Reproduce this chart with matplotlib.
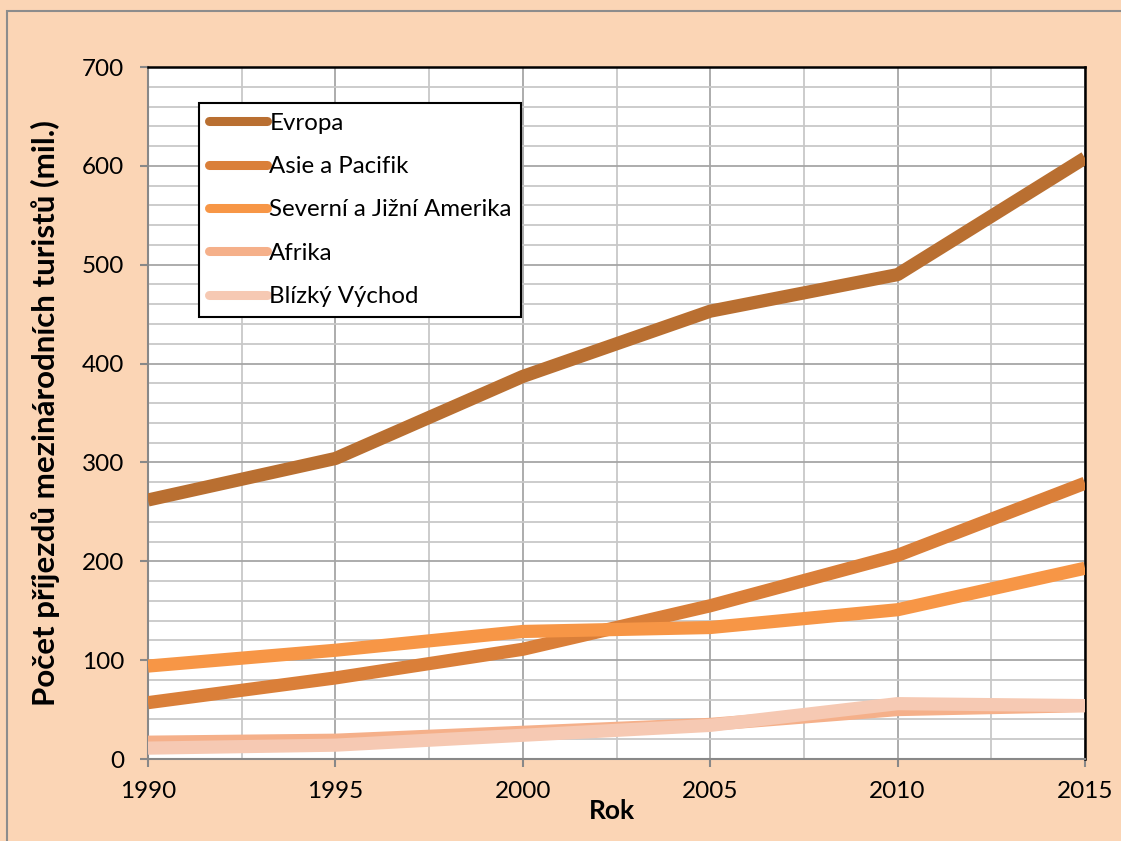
import matplotlib
matplotlib.use("Agg")
import matplotlib.pyplot as plt
from matplotlib.patches import Rectangle
from matplotlib.ticker import MultipleLocator
from matplotlib.legend_handler import HandlerLine2D

years = [1990, 1995, 2000, 2005, 2010, 2015]
series_names = ["Evropa", "Asie a Pacifik", "Severní a Jižní Amerika", "Afrika", "Blízký Východ"]
evropa = [262, 304, 387, 453, 490, 608]
asie = [57, 82, 111, 155, 206, 279]
amerika = [94, 110, 129, 133, 151, 193]
afrika = [17, 19, 27, 35, 50, 54]
blizky_vychod = [11, 14, 24, 34, 56, 54]
values = [evropa, asie, amerika, afrika, blizky_vychod]
colors = ["#B96F31", "#DA7F39", "#F79646", "#F5B08A", "#F6C9B3"]

plt.rcParams['font.family'] = ['Lato', 'DejaVu Sans']

fig = plt.figure(figsize=(11.21, 8.41), dpi=100)
fig.patch.set_facecolor("#FBD5B5")
ax = fig.add_axes([148/1121, 1-759/841, (1085-148)/1121, (759-67)/841])
ax.set_facecolor("white")

for name, vals, c in zip(series_names, values, colors):
    ax.plot(years, vals, color=c, lw=9.5, label=name, solid_capstyle='butt',
            solid_joinstyle='round', zorder=3)

ax.set_xlim(1990, 2015)
ax.set_ylim(0, 700)
ax.xaxis.set_major_locator(MultipleLocator(5))
ax.xaxis.set_minor_locator(MultipleLocator(2.5))
ax.yaxis.set_major_locator(MultipleLocator(100))
ax.yaxis.set_minor_locator(MultipleLocator(20))

ax.grid(which='major', axis='both', color='#A6A6A6', lw=1.3, zorder=1)
ax.grid(which='minor', axis='both', color='#C8C8C8', lw=1.3, zorder=1)
ax.set_axisbelow(True)

ax.tick_params(which='minor', length=0)
ax.tick_params(which='major', length=6, width=1.5, color='#888888',
               labelsize=17.5, pad=10)
ax.tick_params(axis='y', which='major', pad=11)

for s in ['left', 'bottom']:
    ax.spines[s].set_color('#888888')
    ax.spines[s].set_linewidth(1.5)
for s in ['top', 'right']:
    ax.spines[s].set_color('black')
    ax.spines[s].set_linewidth(1.8)

ax.set_xlabel("Rok", fontsize=19, fontweight='bold')
ax.xaxis.set_label_coords(0.5 - 5/937, (759-811)/692)
ax.xaxis.label.set_va('center')
ax.set_ylabel("Počet příjezdů mezinárodních turistů (mil.)", fontsize=22.5, fontweight='bold')
ax.yaxis.set_label_coords((45-148)/937, 0.5)
ax.yaxis.label.set_va('center')


def upd(handle, orig):
    handle.update_from(orig)
    handle.set_linewidth(6.5)
    handle.set_solid_capstyle('round')

leg = ax.legend(loc='upper left', bbox_to_anchor=((199-148)/937, (759-103)/692),
                borderaxespad=0, fontsize=17.3, frameon=True, fancybox=False,
                framealpha=1, edgecolor='black', handlelength=2.45,
                handletextpad=0.08, labelspacing=0.93, borderpad=0.4,
                handler_map={plt.Line2D: HandlerLine2D(update_func=upd)})
leg.get_frame().set_linewidth(1.5)
leg.set_zorder(5)

fig.add_artist(Rectangle((7/1121, -0.05), 1.2, (841-11)/841 + 0.05,
                         transform=fig.transFigure, fill=False,
                         edgecolor='#8C8C8C', lw=1.5))

fig.savefig("out.png", dpi=100, facecolor=fig.get_facecolor())
